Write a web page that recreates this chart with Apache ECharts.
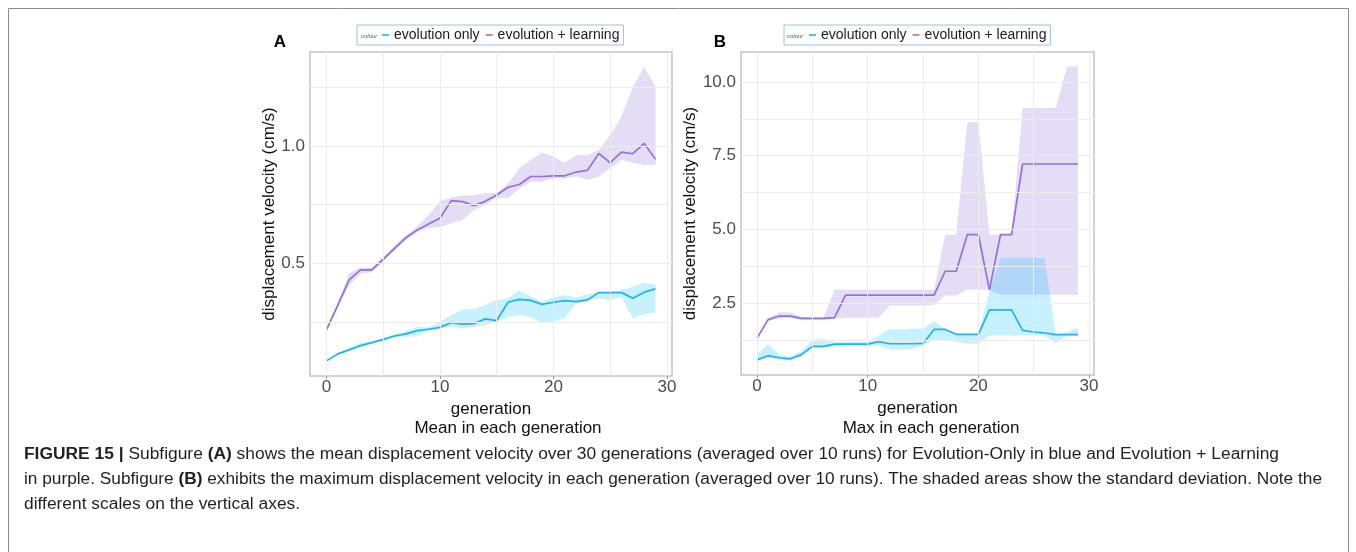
<!DOCTYPE html>
<html>
<head>
<meta charset="utf-8">
<script src="https://cdn.jsdelivr.net/npm/echarts@6/dist/echarts.min.js"></script>
<style>
  html, body { margin: 0; background: #fff; }
  #chart { width: 1356px; height: 552px; }
</style>
</head>
<body>
<div id="chart"></div>
<script>
// generations 0..29
const generations = [0, 1, 2, 3, 4, 5, 6, 7, 8, 9, 10, 11, 12, 13, 14, 15, 16, 17, 18, 19, 20, 21, 22, 23, 24, 25, 26, 27, 28, 29]

// panel A: mean displacement velocity (cm/s)
const meanEvo = [0.084, 0.114, 0.131, 0.149, 0.162, 0.176, 0.190, 0.199, 0.213, 0.219, 0.227, 0.247, 0.241, 0.243, 0.263, 0.256, 0.334, 0.346, 0.342, 0.325, 0.334, 0.341, 0.337, 0.344, 0.375, 0.375, 0.375, 0.351, 0.377, 0.391]
const meanEvoLow = [0.080, 0.110, 0.127, 0.145, 0.158, 0.170, 0.185, 0.188, 0.188, 0.212, 0.223, 0.230, 0.223, 0.230, 0.237, 0.251, 0.270, 0.280, 0.270, 0.244, 0.251, 0.266, 0.330, 0.340, 0.351, 0.344, 0.355, 0.266, 0.283, 0.290]
const meanEvoHigh = [0.088, 0.118, 0.138, 0.162, 0.166, 0.182, 0.196, 0.209, 0.230, 0.227, 0.250, 0.280, 0.304, 0.304, 0.322, 0.344, 0.351, 0.384, 0.358, 0.337, 0.355, 0.365, 0.354, 0.368, 0.379, 0.379, 0.385, 0.400, 0.417, 0.410]
const meanLearn = [0.216, 0.322, 0.429, 0.472, 0.472, 0.517, 0.564, 0.609, 0.642, 0.668, 0.692, 0.767, 0.763, 0.746, 0.764, 0.791, 0.824, 0.836, 0.870, 0.870, 0.873, 0.873, 0.889, 0.896, 0.968, 0.929, 0.974, 0.967, 1.011, 0.943]
const meanLearnLow = [0.210, 0.312, 0.405, 0.455, 0.462, 0.510, 0.555, 0.598, 0.633, 0.650, 0.655, 0.670, 0.685, 0.727, 0.750, 0.779, 0.777, 0.819, 0.848, 0.848, 0.862, 0.862, 0.870, 0.855, 0.869, 0.905, 0.940, 0.929, 0.919, 0.919]
const meanLearnHigh = [0.222, 0.332, 0.458, 0.482, 0.482, 0.527, 0.575, 0.620, 0.659, 0.706, 0.766, 0.780, 0.790, 0.790, 0.800, 0.800, 0.840, 0.905, 0.940, 0.972, 0.955, 0.929, 0.962, 0.962, 0.983, 1.047, 1.125, 1.253, 1.338, 1.253]

// panel B: max displacement velocity (cm/s)
const maxEvo = [0.58, 0.715, 0.646, 0.61, 0.75, 1.03, 1.03, 1.11, 1.11, 1.11, 1.11, 1.19, 1.12, 1.12, 1.12, 1.13, 1.605, 1.605, 1.44, 1.44, 1.44, 2.27, 2.27, 2.27, 1.575, 1.52, 1.485, 1.43, 1.43, 1.43]
const maxEvoLow = [0.50, 0.67, 0.58, 0.55, 0.69, 0.98, 0.98, 1.02, 1.06, 1.06, 1.06, 1.06, 0.92, 0.92, 0.93, 1.07, 1.24, 1.24, 1.18, 1.12, 1.12, 1.40, 1.40, 1.40, 1.40, 1.40, 1.40, 1.12, 1.40, 1.38]
const maxEvoHigh = [0.76, 1.10, 0.76, 0.68, 0.86, 1.26, 1.29, 1.18, 1.18, 1.18, 1.18, 1.40, 1.61, 1.61, 1.63, 1.63, 1.89, 1.63, 1.46, 1.44, 1.44, 2.90, 4.03, 4.03, 4.03, 4.03, 4.03, 1.43, 1.52, 1.66]
const maxLearn = [1.31, 1.94, 2.06, 2.06, 1.98, 1.98, 1.98, 2.01, 2.77, 2.77, 2.77, 2.77, 2.77, 2.77, 2.77, 2.77, 2.77, 3.58, 3.58, 4.82, 4.82, 2.95, 4.82, 4.82, 7.22, 7.22, 7.22, 7.22, 7.22, 7.22]
const maxLearnLow = [1.29, 1.90, 1.97, 2.00, 1.93, 1.93, 1.93, 1.97, 2.00, 2.00, 2.00, 2.00, 2.42, 2.42, 2.42, 2.42, 2.44, 2.76, 2.76, 2.95, 2.95, 2.95, 2.78, 2.78, 2.78, 2.78, 2.78, 2.78, 2.78, 2.78]
const maxLearnHigh = [1.34, 1.97, 2.19, 2.19, 2.03, 2.00, 2.00, 2.95, 2.95, 2.95, 2.95, 2.95, 2.95, 2.95, 2.95, 2.95, 2.95, 4.82, 4.82, 8.64, 8.64, 4.82, 4.82, 4.82, 9.12, 9.12, 9.12, 9.12, 10.53, 10.53]

// ticks and grid lines
const xTicks = [0, 10, 20, 30]
const xGrid = [0, 5, 10, 15, 20, 25, 30]
const yTicksA = [0.5, 1.0]
const yGridA = [0.25, 0.5, 0.75, 1.0, 1.25]
const yTicksB = [2.5, 5.0, 7.5, 10.0]
const yGridB = [1.25, 2.5, 3.75, 5.0, 6.25, 7.5, 8.75, 10.0]

const seriesNames = ['evolution only', 'evolution + learning']
const EVO = '#1cb5f0'
const LEARN = '#9370db'
const FONT = '"Liberation Sans", Arial, sans-serif'

const pairs = (arr) => generations.map((g, i) => [g, arr[i]])

// invisible carrier series for the panel grid lines
function gridSeries(idx, ys) {
  return {
    type: 'line', name: 'grid' + idx, xAxisIndex: idx, yAxisIndex: idx,
    data: [[xGrid[0], ys[0]]], symbol: 'none',
    lineStyle: { opacity: 0 }, z: 0, silent: true,
    markLine: {
      silent: true,
      symbol: 'none',
      label: { show: false },
      lineStyle: { color: '#ececec', width: 1, type: 'solid' },
      data: [...xGrid.map((v) => ({ xAxis: v })), ...ys.map((v) => ({ yAxis: v }))],
    },
  }
}

// shaded standard-deviation ribbon
function band(idx, lo, hi, fill) {
  return {
    type: 'custom', xAxisIndex: idx, yAxisIndex: idx, z: 1, silent: true,
    data: generations.map((g, i) => [g, lo[i], hi[i]]),
    encode: { x: 0, y: [1, 2] },
    renderItem(params, api) {
      if (params.dataIndex !== 0) return null
      const top = generations.map((g, i) => api.coord([g, hi[i]]))
      const bottom = generations.map((g, i) => api.coord([g, lo[i]])).reverse()
      return { type: 'polygon', shape: { points: top.concat(bottom) }, style: { fill } }
    },
  }
}

function mainLine(idx, name, values, color) {
  return {
    type: 'line', name, xAxisIndex: idx, yAxisIndex: idx, data: pairs(values),
    symbol: 'none', color, itemStyle: { color }, lineStyle: { color, width: 1.7 }, z: 3,
  }
}

function xAxisFor(idx) {
  return {
    type: 'value', gridIndex: idx, min: -1.45, max: 30.45,
    name: 'generation', nameLocation: 'middle', nameGap: 14,
    nameTextStyle: { fontSize: 17, color: '#111', fontFamily: FONT },
    axisLine: { show: false },
    axisTick: { show: true, length: 3, customValues: xTicks, lineStyle: { color: '#999' } },
    axisLabel: { customValues: xTicks, fontSize: 17, color: '#4d4d4d', margin: 3, fontFamily: FONT },
    splitLine: { show: false },
  }
}

function yAxisFor(idx, min, max, ticks, gap) {
  return {
    type: 'value', gridIndex: idx, min, max,
    name: 'displacement velocity (cm/s)', nameLocation: 'middle', nameGap: gap,
    nameTextStyle: { fontSize: 17, color: '#111', fontFamily: FONT },
    axisLine: { show: false },
    axisTick: { show: true, length: 3, customValues: ticks, lineStyle: { color: '#999' } },
    axisLabel: { customValues: ticks, fontSize: 17, color: '#4d4d4d', margin: 5, fontFamily: FONT,
      formatter: (v) => Number(v).toFixed(1) },
    splitLine: { show: false },
  }
}

function legendAt(left) {
  return {
    left, top: 25, data: seriesNames, selectedMode: false,
    icon: 'rect', itemWidth: 7, itemHeight: 1.6, itemGap: 6,
    padding: [3, 4, 3, 25], borderColor: '#9cc2e6', borderWidth: 1,
    textStyle: { fontSize: 14, color: '#1a1a1a', fontFamily: FONT },
  }
}

// caption lines, with bold runs
const captionLines = [
  { y: 455, parts: [['FIGURE 15 |', 1], [' Subfigure ', 0], ['(A)', 1], [' shows the mean displacement velocity over 30 generations (averaged over 10 runs) for Evolution-Only in blue and Evolution + Learning', 0]] },
  { y: 480, parts: [['in purple. Subfigure ', 0], ['(B)', 1], [' exhibits the maximum displacement velocity in each generation (averaged over 10 runs). The shaded areas show the standard deviation. Note the', 0]] },
  { y: 505, parts: [['different scales on the vertical axes.', 0]] },
]
const captionLeft = 24
const captionTargets = [1255, 1298]
const measureCtx = document.createElement('canvas').getContext('2d')
function measure(parts) {
  let w = 0
  for (const [t, b] of parts) {
    measureCtx.font = (b ? 'bold ' : '') + '16px "Liberation Sans", Arial, sans-serif'
    w += measureCtx.measureText(t).width
  }
  return w
}
const baseScale = captionTargets[0] / measure(captionLines[0].parts)
const captionGraphics = captionLines.map((line, i) => ({
  type: 'text', x: captionLeft, y: line.y, originX: 0,
  scaleX: i === 1 ? captionTargets[1] / measure(line.parts) : baseScale,
  style: {
    text: line.parts.map(([t, b]) => (b ? `{b|${t}}` : `{n|${t}}`)).join(''),
    verticalAlign: 'middle',
    rich: {
      b: { fontSize: 16, fontWeight: 'bold', fill: '#231f20', fontFamily: FONT },
      n: { fontSize: 16, fill: '#231f20', fontFamily: FONT },
    },
  },
}))

const chart = echarts.init(document.getElementById('chart'))
chart.setOption({
  animation: false,
  backgroundColor: '#fff',
  grid: [
    { left: 310, top: 52, width: 362, height: 324, show: true, borderColor: '#c4c4c4', borderWidth: 1.5, backgroundColor: 'transparent' },
    { left: 741, top: 52, width: 353, height: 323, show: true, borderColor: '#c4c4c4', borderWidth: 1.5, backgroundColor: 'transparent' },
  ],
  legend: [legendAt(357), legendAt(784)],
  xAxis: [xAxisFor(0), xAxisFor(1)],
  yAxis: [yAxisFor(0, 0.0196, 1.4007, yTicksA, 24), yAxisFor(1, 0.06, 11.02, yTicksB, 32)],
  series: [
    gridSeries(0, yGridA),
    band(0, meanLearnLow, meanLearnHigh, 'rgba(147,112,219,0.24)'),
    band(0, meanEvoLow, meanEvoHigh, 'rgba(0,191,255,0.22)'),
    mainLine(0, 'evolution only', meanEvo, EVO),
    mainLine(0, 'evolution + learning', meanLearn, LEARN),
    gridSeries(1, yGridB),
    band(1, maxLearnLow, maxLearnHigh, 'rgba(147,112,219,0.24)'),
    band(1, maxEvoLow, maxEvoHigh, 'rgba(0,191,255,0.22)'),
    mainLine(1, 'evolution only', maxEvo, EVO),
    mainLine(1, 'evolution + learning', maxLearn, LEARN),
  ],
  graphic: [
    { type: 'rect', shape: { x: 8.5, y: 8.5, width: 1340, height: 600 }, style: { fill: 'none', stroke: '#8c8c8c', lineWidth: 1 } },
    { type: 'text', x: 280, y: 42, style: { text: 'A', fontSize: 17, fontWeight: 'bold', fill: '#000', fontFamily: FONT, align: 'center', verticalAlign: 'middle' } },
    { type: 'text', x: 720, y: 42, style: { text: 'B', fontSize: 17, fontWeight: 'bold', fill: '#000', fontFamily: FONT, align: 'center', verticalAlign: 'middle' } },
    { type: 'text', x: 361, y: 36, style: { text: 'colour', fontSize: 6, fontStyle: 'italic', fill: '#555', fontFamily: FONT, verticalAlign: 'middle' } },
    { type: 'text', x: 787, y: 36, style: { text: 'colour', fontSize: 6, fontStyle: 'italic', fill: '#555', fontFamily: FONT, verticalAlign: 'middle' } },
    { type: 'text', x: 508, y: 428, style: { text: 'Mean in each generation', fontSize: 17, fill: '#111', fontFamily: FONT, align: 'center', verticalAlign: 'middle' } },
    { type: 'text', x: 931, y: 428, style: { text: 'Max in each generation', fontSize: 17, fill: '#111', fontFamily: FONT, align: 'center', verticalAlign: 'middle' } },
    ...captionGraphics,
  ],
})
</script>
</body>
</html>
